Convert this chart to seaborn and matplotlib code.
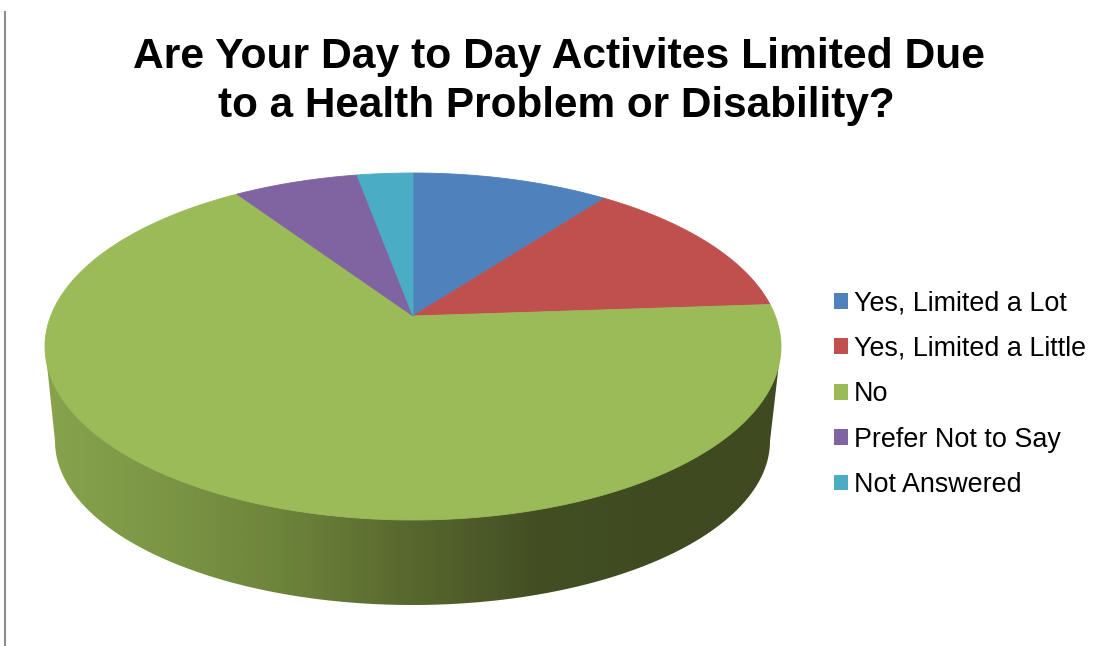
import numpy as np
import matplotlib
matplotlib.use("Agg")
import matplotlib.pyplot as plt
from matplotlib.patches import Patch, Polygon
import seaborn as sns

# ---- data -------------------------------------------------------------
title_lines = ["Are Your Day to Day Activites Limited Due",
               "to a Health Problem or Disability?"]
categories = ["Yes, Limited a Lot", "Yes, Limited a Little", "No",
              "Prefer Not to Say", "Not Answered"]
values = [10.3, 13.6, 66.7, 6.5, 2.9]
colors = ["#4F81BD", "#C0504D", "#9BBB59", "#8064A2", "#4BACC6"]
side_stops = ["#88A34D", "#7B9545", "#6C823A", "#58672E", "#434F23", "#3F4A21", "#3F4A21"]

# ---- geometry of the projected disc (pixels of the 1102x646 canvas) ----
APEX_X, APEX_Y = 413, 316
REACH_UP, REACH_DOWN = 143, 204
HALF_WIDTH = 368
BOTTOM_CX, BOTTOM_CY, BOTTOM_RX, BOTTOM_RY = 412.5, 441, 357.5, 164

persp = (REACH_DOWN - REACH_UP) / (REACH_DOWN + REACH_UP)
scale_y = REACH_UP * (1 + persp)
scale_x = HALF_WIDTH * np.sqrt(1 - persp ** 2)


def project(theta):
    """Clockwise angle from 12 o'clock -> canvas position."""
    u, v = np.sin(theta), np.cos(theta)
    w = 1 + persp * v
    return APEX_X + scale_x * u / w, APEX_Y - scale_y * v / w


sns.set_theme(style="white")
plt.rcParams["font.family"] = ["Liberation Sans", "DejaVu Sans"]

fig = plt.figure(figsize=(11.02, 6.46), dpi=100, facecolor="white")
ax = fig.add_axes([0, 0, 1, 1])
ax.set_axis_off()

# ---- side wall: gradient clipped to the wall outline -------------------
t = np.linspace(0, np.pi, 300)
top_x, top_y = project(t * 2)
lower_x = BOTTOM_CX - BOTTOM_RX * np.cos(t)
lower_y = BOTTOM_CY + BOTTOM_RY * np.sin(t)
right_i, left_i = np.argmax(top_x), np.argmin(top_x)
order = np.r_[np.arange(right_i, -1, -1), np.arange(len(top_x) - 1, left_i - 1, -1)]
wall = np.vstack([np.c_[lower_x, lower_y], np.c_[top_x[order], top_y[order]]])
wall_patch = Polygon(wall, closed=True, facecolor="none", edgecolor="none")
ax.add_patch(wall_patch)
cmap = sns.blend_palette(side_stops, n_colors=256, as_cmap=True)
x_left, x_right = top_x.min(), top_x.max()
img = ax.imshow(np.linspace(0, 1, 512)[None, :], cmap=cmap, aspect="auto",
                extent=[x_left, x_right, 610, 340], interpolation="bilinear", zorder=1)
img.set_clip_path(wall_patch)

# ---- top face, one wedge per value -------------------------------------
edges = np.r_[0, np.cumsum(values)] / np.sum(values) * 2 * np.pi
for start, stop, color in zip(edges[:-1], edges[1:], colors):
    arc = np.linspace(start, stop, 200)
    x, y = project(arc)
    ax.fill(np.r_[APEX_X, x], np.r_[APEX_Y, y], facecolor=color,
            edgecolor=color, linewidth=0.6, zorder=2)

# ---- outer rule, title, legend -----------------------------------------
ax.plot([5, 5], [11, 646], color="#8C8C8C", linewidth=1.5, solid_capstyle="butt", zorder=3)
ax.set_xlim(0, 1102)
ax.set_ylim(646, 0)

ax.text(559, 68, title_lines[0], ha="center", va="baseline", fontsize=30.7,
        fontweight="bold", color="black")
ax.text(556, 117, title_lines[1], ha="center", va="baseline", fontsize=30.4,
        fontweight="bold", color="black")

handles = [Patch(facecolor=c, edgecolor="none", label=n) for c, n in zip(colors, categories)]
ax.legend(handles=handles, loc="upper left", bbox_to_anchor=(834, 290.5),
          bbox_transform=ax.transData, frameon=False, fontsize=19.4,
          handlelength=0.52, handleheight=0.52, handletextpad=0.22,
          labelspacing=0.72, borderpad=0, borderaxespad=0, labelcolor="black")

fig.savefig("out.png", dpi=100, facecolor="white")
